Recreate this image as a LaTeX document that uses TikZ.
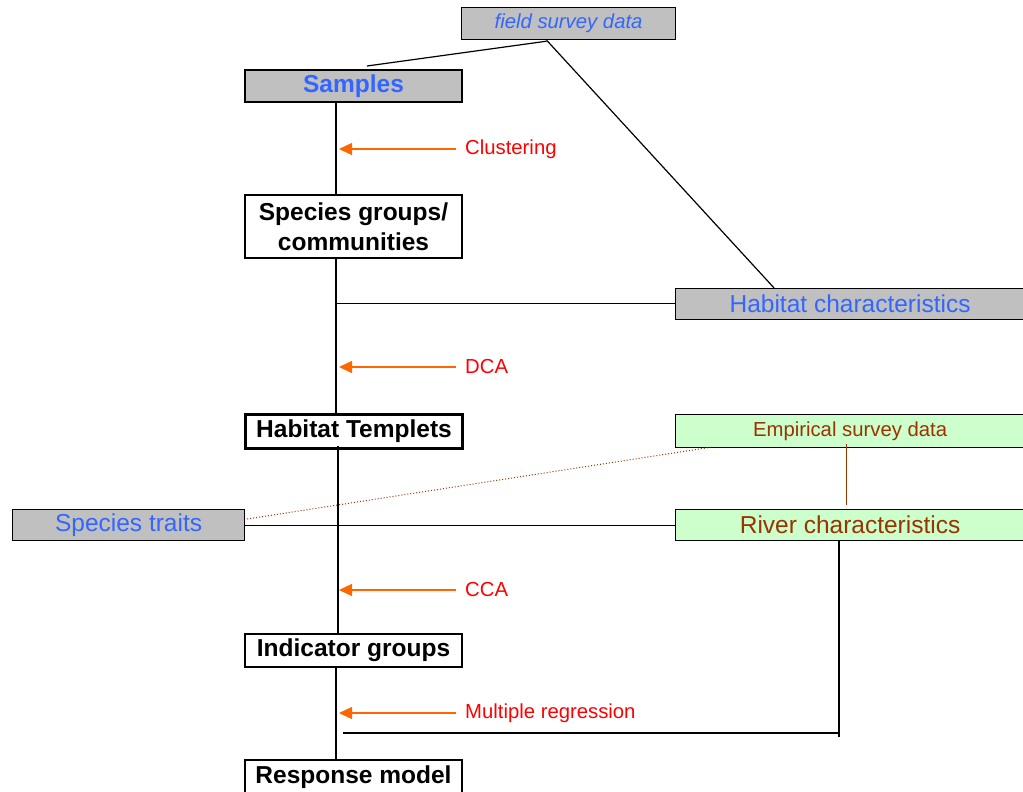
\documentclass[tikz,border=0pt]{standalone}
\usepackage{fontspec}
\setmainfont{Liberation Sans}
\usetikzlibrary{calc,arrows.meta}
\definecolor{boxgray}{HTML}{C0C0C0}
\definecolor{txtblue}{HTML}{3366FF}
\definecolor{arrorange}{HTML}{FF6600}
\definecolor{txtbrown}{HTML}{993300}
\definecolor{lightgreen}{HTML}{CCFFCC}
\tikzset{
  box/.style={rectangle, draw=black, inner sep=0pt, anchor=north west},
  stage/.style={box, fill=white, line width=2pt, font=\fontsize{24.5}{30}\selectfont\bfseries, align=center},
  source/.style={box, fill=boxgray, line width=1.2pt, text=txtblue, font=\fontsize{24.5}{26}\selectfont},
  river/.style={box, fill=lightgreen, line width=1.2pt, text=txtbrown},
  method/.style={inner sep=0pt, anchor=west, text=red, font=\fontsize{20.3}{22}\selectfont},
  methodarrow/.style={draw=arrorange, line width=1.3pt, -{Triangle[length=13pt,width=12pt]}},
  link/.style={line width=1.2pt, draw=black},
}
\begin{document}
\begin{tikzpicture}[x=1pt,y=-1pt]
\useasboundingbox (0,0) rectangle (1023,792);

% data sources
\node[source, minimum width=214pt, minimum height=32pt, font=\fontsize{20.3}{22}\selectfont\itshape] (field) at (461,7) {field survey data};
\node[source, minimum width=349pt, minimum height=31pt] (habchar) at (675,288) {Habitat characteristics};
\node[source, minimum width=232pt, minimum height=31pt] (traits) at (12,509) {Species traits};
\node[river, minimum width=349pt, minimum height=33pt, font=\fontsize{20.3}{22}\selectfont] (emp) at (675,414) {Empirical survey data};
\node[river, minimum width=349pt, minimum height=31pt, font=\fontsize{24.5}{26}\selectfont] (rivchar) at (675,509) {River characteristics};

% analysis stages
\node[stage, minimum width=217pt, minimum height=32pt, fill=boxgray, text=txtblue] (samples) at (244,69) {Samples};
\node[stage, minimum width=217pt, minimum height=63pt] (species) at (244,194) {Species groups/\\communities};
\node[stage, minimum width=217pt, minimum height=34pt, line width=3pt] (templets) at (244,413) {Habitat Templets};
\node[stage, minimum width=217pt, minimum height=33pt] (indicator) at (244,633) {Indicator groups};
\node[stage, minimum width=217pt, minimum height=34pt] (response) at (244,759) {Response model};

% reference positions of the spine and side links
\coordinate (vx) at (336,0);
\coordinate (vy) at (338,0);
\coordinate (ax) at (339,0);
\coordinate (rx) at (839,0);

% spine through the stages
\draw[link] (samples.south -| vx) -- (species.north -| vx);
\draw[link] (species.south -| vx) -- (templets.north -| vx);
\draw[link] ($(templets.south -| vy)+(0,-4)$) -- (indicator.north -| vy);
\draw[link] (indicator.south -| vx) -- (response.north -| vx);

% field survey data feeds samples and habitat characteristics
\draw[link] ($(samples.north)+(13.5,-3)$) -- ($(field.south)+(-22,1)$);
\draw[link] ($(field.south)+(-22,0)$) -- ($(habchar.north)+(-76,0)$);

% habitat characteristics joins the spine
\coordinate (hj) at (336,303.5);
\draw[link] (hj) -- (hj -| habchar.west);

% species traits and river characteristics
\draw[link] (traits.east) -- (rivchar.west);
\draw[txtbrown, line width=1pt, dotted] ($(traits.north east)+(2,10)$) -- ($(emp.south west)+(36,-1)$);
\draw[txtbrown, line width=1.2pt] ($(emp.south)+(-4,-4)$) -- ($(rivchar.north)+(-4,-4)$);

% river characteristics into the regression
\coordinate (mr) at (839,733);
\coordinate (ml) at (343,733);
\draw[link] (rivchar.south -| rx) -- ($(mr)+(0,4)$);
\draw[link] (ml) -- (mr);

% methods
\node[method] (clust) at (465,149) {Clustering};
\node[method] (dca) at (465,367) {DCA};
\node[method] (cca) at (465,590) {CCA};
\node[method] (mreg) at (465,713) {Multiple regression};
\foreach \m in {clust,dca,cca,mreg}
  \draw[methodarrow] ($(\m.west)+(-9,0)$) -- (\m.west -| ax);
\end{tikzpicture}
\end{document}
